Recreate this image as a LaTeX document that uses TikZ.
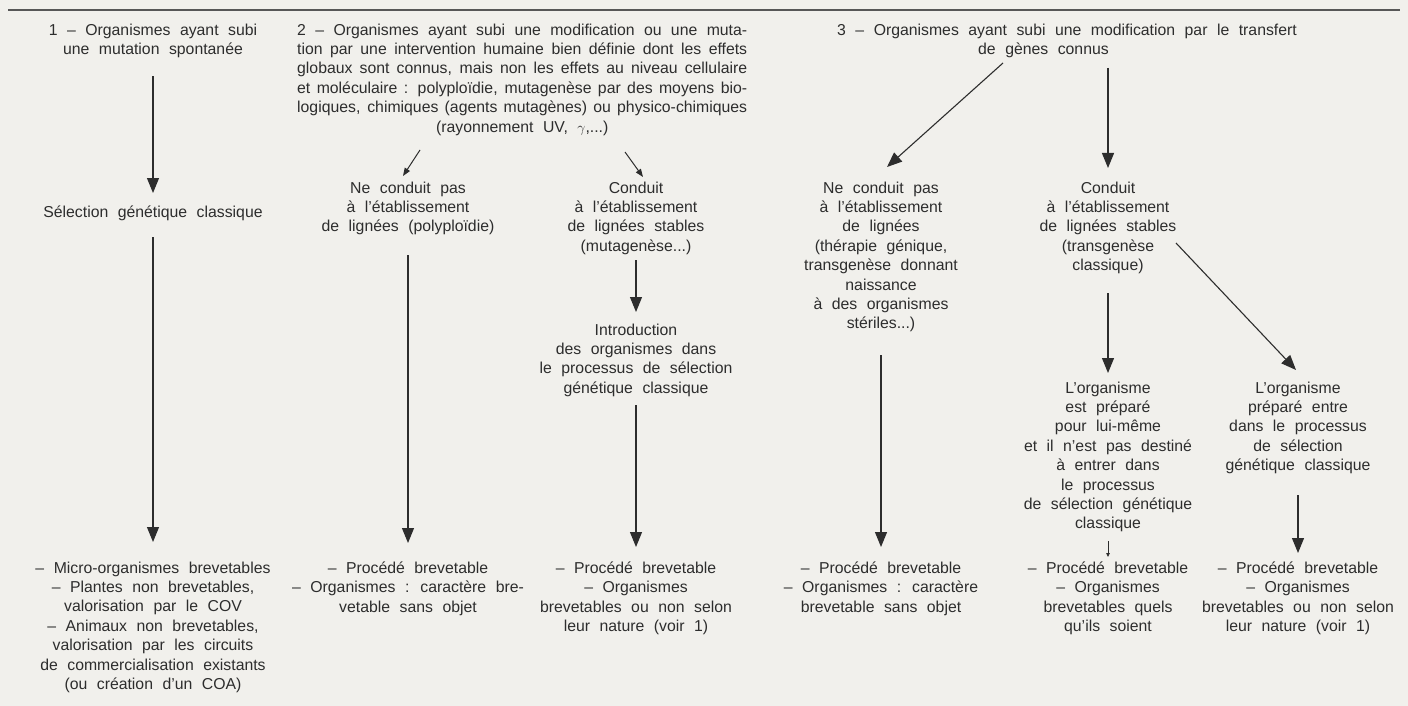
\documentclass[tikz,border=0pt]{standalone}
\usepackage{fontspec}
\setmainfont{Liberation Sans}
\usetikzlibrary{arrows.meta}
\definecolor{bg}{RGB}{241,240,236}
\definecolor{ink}{RGB}{45,45,45}
\newcommand\blk{\fontsize{15.8}{19.4}\selectfont\spaceskip=9.5pt plus 4pt minus 4pt\relax}
\begin{document}
\begin{tikzpicture}[x=1pt,y=-1pt,
  txt/.style={inner sep=0pt, anchor=north, align=center, font=\blk, text=ink,
    execute at begin node=\strut, execute at end node=\strut},
  blocktxt/.style={txt, anchor=north west, align=left},
  arr/.style={draw=ink, line width=1.1pt, -{Triangle[length=15pt,width=12pt]}},
  sarr/.style={draw=ink, line width=1pt, -{Triangle[length=8pt,width=6pt]}},
  tarr/.style={draw=ink, line width=0.8pt, -{Triangle[length=4pt,width=3.5pt]}}]
\fill[bg] (0,0) rectangle (1408,706);
\useasboundingbox (0,0) rectangle (1408,706);
\draw[ink!80, line width=1.2pt] (8,10) -- (1400,10);

% column 1
\node[txt] (b1) at (153,23.4) {1 – Organismes ayant subi\\une mutation spontanée};
\node[txt] (sel) at (153,203.4) {Sélection génétique classique};
\node[txt] (r1) at (153,561.4) {– Micro-organismes brevetables\\– Plantes non brevetables,\\valorisation par le COV\\– Animaux non brevetables,\\valorisation par les circuits\\de commercialisation existants\\(ou création d’un COA)};

% block 2
\node[blocktxt] (b2) at (297,23.4) {%
\hbox to 450pt{2 – Organismes ayant subi une modification ou une muta-}\\
\hbox to 450pt{tion par une intervention humaine bien définie dont les effets}\\
\hbox to 450pt{globaux sont connus, mais non les effets au niveau cellulaire}\\
\hbox to 450pt{et moléculaire : polyploïdie, mutagenèse par des moyens bio-}\\
\hbox to 450pt{logiques, chimiques (agents mutagènes) ou physico-chimiques}\\
\hbox to 450pt{\hfil (rayonnement UV, $\gamma$,...)\hfil}};
\node[txt] (c2a) at (408,181.4) {Ne conduit pas\\à l’établissement\\de lignées (polyploïdie)};
\node[txt] (c3a) at (636,181.4) {Conduit\\à l’établissement\\de lignées stables\\(mutagenèse...)};
\node[txt] (c3b) at (636,323.4) {Introduction\\des organismes dans\\le processus de sélection\\génétique classique};
\node[txt] (r2) at (408,561.4) {– Procédé brevetable\\– Organismes : caractère bre-\\vetable sans objet};
\node[txt] (r3) at (636,561.4) {– Procédé brevetable\\– Organismes\\brevetables ou non selon\\leur nature (voir 1)};

% block 3
\node[blocktxt] (b3) at (837,23.4) {3 – Organismes ayant subi une modification par le transfert\\\hspace*{141pt}de gènes connus};
\node[txt] (c4a) at (881,181.4) {Ne conduit pas\\à l’établissement\\de lignées\\(thérapie génique,\\transgenèse donnant\\naissance\\à des organismes\\stériles...)};
\node[txt] (r4) at (881,561.4) {– Procédé brevetable\\– Organismes : caractère\\brevetable sans objet};
\node[txt] (c5a) at (1108,181.4) {Conduit\\à l’établissement\\de lignées stables\\(transgenèse\\classique)};
\node[txt] (c5b) at (1108,381.4) {L’organisme\\est préparé\\pour lui-même\\et il n’est pas destiné\\à entrer dans\\le processus\\de sélection génétique\\classique};
\node[txt] (r5) at (1108,561.4) {– Procédé brevetable\\– Organismes\\brevetables quels\\qu’ils soient};
\node[txt] (c6a) at (1298,381.4) {L’organisme\\préparé entre\\dans le processus\\de sélection\\génétique classique};
\node[txt] (r6) at (1298,561.4) {– Procédé brevetable\\– Organismes\\brevetables ou non selon\\leur nature (voir 1)};

% arrows column 1
\draw[arr, shorten <=16pt, shorten >=10.4pt] (b1) -- (sel);
\draw[arr, shorten <=14pt, shorten >=19.4pt] (sel) -- (r1);
% arrows block 2
\coordinate (t2l) at (420,150);
\coordinate (t2r) at (625,152);
\draw[sarr] (t2l) -- ([xshift=-5pt,yshift=5.4pt]c2a.north);
\draw[sarr] (t2r) -- ([xshift=7pt,yshift=4.4pt]c3a.north);
\draw[arr, shorten <=17.4pt, shorten >=18.4pt] (c2a) -- (r2);
\draw[arr, shorten <=3pt, shorten >=11.4pt] (c3a) -- (c3b);
\draw[arr, shorten <=6pt, shorten >=14.4pt] (c3b) -- (r3);
% arrows block 3
\coordinate (t3l) at (1003,63);
\coordinate (t3r) at (1108,68);
\coordinate (t5d) at (1176,243);
\draw[arr] (t3l) -- ([xshift=6pt,yshift=14.4pt]c4a.north);
\draw[arr] (t3r) -- ([yshift=13.4pt]c5a.north);
\draw[arr, shorten <=20.4pt, shorten >=14.4pt] (c4a) -- (r4);
\draw[arr, shorten <=16.6pt, shorten >=8.4pt] (c5a) -- (c5b);
\draw[tarr, shorten <=6.4pt, shorten >=4.4pt] (c5b) -- (r5);
\draw[arr] (t5d) -- ([xshift=-2pt,yshift=11.4pt]c6a.north);
\draw[arr, shorten <=18.6pt, shorten >=8.4pt] (c6a) -- (r6);
\end{tikzpicture}
\end{document}
